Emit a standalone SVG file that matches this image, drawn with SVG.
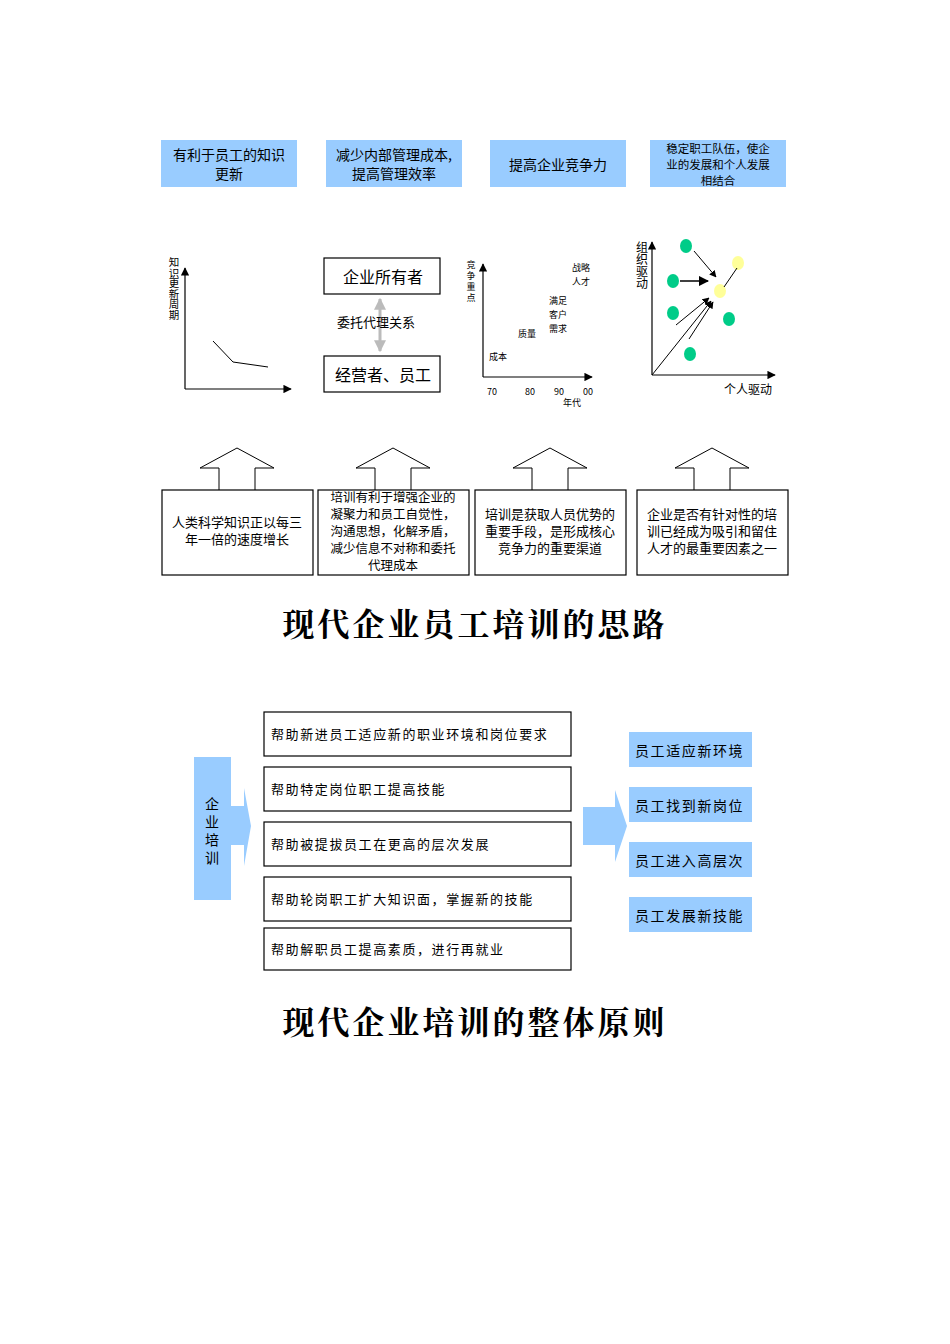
<svg xmlns="http://www.w3.org/2000/svg" width="950" height="1344" viewBox="0 0 950 1344">
<style>
text{font-family:"Noto Sans CJK SC","Liberation Sans",sans-serif;fill:#000}
.tb{fill:#99CCFF}
.t13{font-size:13px}
.t14{font-size:14px}
.s{font-size:9px}
.bx{fill:#fff;stroke:#000;stroke-width:1.2}
.ax{stroke:#000;stroke-width:1.2;fill:none}
.up{fill:#fff;stroke:#000;stroke-width:1}
.title{font-family:"Noto Serif CJK SC","Noto Sans CJK SC",serif;font-size:32px;font-weight:bold;letter-spacing:3px}
.g{fill:#00CC88}
.y{fill:#FFFF99}
.ls{letter-spacing:1.6px}
</style>
<defs>
<marker id="ah" viewBox="0 0 10 10" refX="9" refY="5" markerWidth="7" markerHeight="7" orient="auto"><path d="M0,0L10,5L0,10z" fill="#000"/></marker>
<marker id="gh" viewBox="0 0 10 10" refX="9" refY="5" markerWidth="4" markerHeight="4" orient="auto-start-reverse"><path d="M0,0L10,5L0,10z" fill="#bbb"/></marker>
</defs>
<g id="top-boxes" class="t14">
<g id="b1"><rect class="tb" x="161" y="140" width="136" height="47"/><text x="229" y="160" text-anchor="middle">有利于员工的知识</text><text x="229" y="179" text-anchor="middle">更新</text></g>
<g id="b2"><rect class="tb" x="326" y="140" width="136" height="47"/><text x="394" y="160" text-anchor="middle">减少内部管理成本,</text><text x="394" y="179" text-anchor="middle">提高管理效率</text></g>
<g id="b3"><rect class="tb" x="490" y="140" width="136" height="47"/><text x="558" y="170" text-anchor="middle">提高企业竞争力</text></g>
<g id="b4"><rect class="tb" x="650" y="140" width="136" height="47"/><text font-size="11.5" x="718" y="153" text-anchor="middle">稳定职工队伍，使企</text><text font-size="11.5" x="718" y="169" text-anchor="middle">业的发展和个人发展</text><text font-size="11.5" x="718" y="185" text-anchor="middle">相结合</text></g>
</g>
<g id="chart1">
<path class="ax" d="M185,389V268" marker-end="url(#ah)"/>
<path class="ax" d="M185,389H291" marker-end="url(#ah)"/>
<path d="M213,341L233,362L268,367" fill="none" stroke="#000"/>
<text font-size="10.5" x="174" y="257" style="writing-mode:vertical-rl">知识更新周期</text>
</g>
<g id="chart2">
<rect class="bx" x="324" y="258" width="116" height="36"/><text font-size="16" x="383" y="283" text-anchor="middle">企业所有者</text>
<rect class="bx" x="324" y="356" width="116" height="36"/><text font-size="16" x="383" y="381" text-anchor="middle">经营者、员工</text>
<path d="M380,299V351" stroke="#bbb" stroke-width="3" marker-start="url(#gh)" marker-end="url(#gh)"/>
<text font-size="13" x="376" y="327" text-anchor="middle">委托代理关系</text>
</g>
<g id="chart3">
<path class="ax" d="M483,377V264" marker-end="url(#ah)"/>
<path class="ax" d="M483,377H592" marker-end="url(#ah)"/>
<text class="s" x="471" y="260" style="writing-mode:vertical-rl;letter-spacing:2px">竞争重点</text>
<text class="s" x="581" y="271" text-anchor="middle">战略</text><text class="s" x="581" y="285" text-anchor="middle">人才</text>
<text class="s" x="558" y="304" text-anchor="middle">满足</text><text class="s" x="558" y="318" text-anchor="middle">客户</text><text class="s" x="558" y="332" text-anchor="middle">需求</text>
<text class="s" x="527" y="337" text-anchor="middle">质量</text>
<text class="s" x="498" y="360" text-anchor="middle">成本</text>
<text class="s" x="492" y="395" text-anchor="middle">70</text><text class="s" x="530" y="395" text-anchor="middle">80</text><text class="s" x="559" y="395" text-anchor="middle">90</text><text class="s" x="588" y="395" text-anchor="middle">00</text>
<text class="s" x="572" y="406" text-anchor="middle">年代</text>
</g>
<g id="chart4">
<path class="ax" d="M652,375V242" marker-end="url(#ah)"/>
<path class="ax" d="M652,375H775" marker-end="url(#ah)"/>
<ellipse class="g" cx="686" cy="246" rx="6" ry="7"/><ellipse class="g" cx="673" cy="281" rx="6" ry="7"/><ellipse class="g" cx="673" cy="313" rx="6" ry="7"/><ellipse class="g" cx="729" cy="319" rx="6" ry="7"/><ellipse class="g" cx="690" cy="354" rx="6" ry="7"/>
<ellipse class="y" cx="720" cy="291" rx="6" ry="7"/><ellipse class="y" cx="738" cy="263" rx="6" ry="7"/>
<g stroke="#000" stroke-width="1" fill="none">
<path d="M694,251L716,277" marker-end="url(#ah)"/><path d="M680,281H708" marker-end="url(#ah)" stroke-width="1.5"/><path d="M676,325L709,298" marker-end="url(#ah)"/><path d="M689,339L713,302" marker-end="url(#ah)"/><path d="M652,375L711,301" marker-end="url(#ah)"/><path d="M724,287L737,268"/>
</g>
<text font-size="12" x="642" y="241" style="writing-mode:vertical-rl">组织驱动</text>
<text font-size="12" x="748" y="394" text-anchor="middle">个人驱动</text>
</g>
<g id="up-arrows">
<path class="up" d="M219,490V468H200L237,448L274,468H255V490"/>
<path class="up" d="M375,490V468H356L393,448L430,468H411V490"/>
<path class="up" d="M532,490V468H513L550,448L587,468H568V490"/>
<path class="up" d="M694,490V468H675L712,448L749,468H730V490"/>
</g>
<g id="bottom-boxes" class="t13">
<g id="c1"><rect class="bx" x="162" y="490" width="151" height="85"/><text x="237" y="527" text-anchor="middle">人类科学知识正以每三</text><text x="237" y="544" text-anchor="middle">年一倍的速度增长</text></g>
<g id="c2" font-size="12.5"><rect class="bx" x="318" y="490" width="151" height="85"/><text x="393" y="502" text-anchor="middle">培训有利于增强企业的</text><text x="393" y="519" text-anchor="middle">凝聚力和员工自觉性，</text><text x="393" y="536" text-anchor="middle">沟通思想，化解矛盾，</text><text x="393" y="553" text-anchor="middle">减少信息不对称和委托</text><text x="393" y="570" text-anchor="middle">代理成本</text></g>
<g id="c3"><rect class="bx" x="475" y="490" width="151" height="85"/><text x="550" y="519" text-anchor="middle">培训是获取人员优势的</text><text x="550" y="536" text-anchor="middle">重要手段，是形成核心</text><text x="550" y="553" text-anchor="middle">竞争力的重要渠道</text></g>
<g id="c4"><rect class="bx" x="637" y="490" width="151" height="85"/><text x="712" y="519" text-anchor="middle">企业是否有针对性的培</text><text x="712" y="536" text-anchor="middle">训已经成为吸引和留住</text><text x="712" y="553" text-anchor="middle">人才的最重要因素之一</text></g>
</g>
<text class="title" x="475" y="636" text-anchor="middle">现代企业员工培训的思路</text>
<g id="left-block">
<path class="tb" d="M194,757H231V806H244L244,788L251,826L244,866V845H231V900H194Z"/>
<text font-size="14" x="212" y="809" text-anchor="middle">企</text><text font-size="14" x="212" y="827" text-anchor="middle">业</text><text font-size="14" x="212" y="845" text-anchor="middle">培</text><text font-size="14" x="212" y="863" text-anchor="middle">训</text>
</g>
<g id="mid-boxes" class="t13 ls">
<g><rect class="bx" x="264" y="712" width="307" height="44"/><text x="271" y="739">帮助新进员工适应新的职业环境和岗位要求</text></g>
<g><rect class="bx" x="264" y="767" width="307" height="44"/><text x="271" y="794">帮助特定岗位职工提高技能</text></g>
<g><rect class="bx" x="264" y="822" width="307" height="44"/><text x="271" y="849">帮助被提拔员工在更高的层次发展</text></g>
<g><rect class="bx" x="264" y="877" width="307" height="44"/><text x="271" y="904">帮助轮岗职工扩大知识面，掌握新的技能</text></g>
<g><rect class="bx" x="264" y="928" width="307" height="42"/><text x="271" y="954">帮助解职员工提高素质，进行再就业</text></g>
</g>
<g id="right-arrow"><path class="tb" d="M583,807H615V790L627,826L615,862V845H583Z"/></g>
<g id="right-boxes" class="t14 ls">
<g><rect class="tb" x="629" y="732" width="123" height="35"/><text x="635" y="756">员工适应新环境</text></g>
<g><rect class="tb" x="629" y="787" width="123" height="35"/><text x="635" y="811">员工找到新岗位</text></g>
<g><rect class="tb" x="629" y="842" width="123" height="35"/><text x="635" y="866">员工进入高层次</text></g>
<g><rect class="tb" x="629" y="897" width="123" height="35"/><text x="635" y="921">员工发展新技能</text></g>
</g>
<text class="title" x="475" y="1034" text-anchor="middle">现代企业培训的整体原则</text>
</svg>
